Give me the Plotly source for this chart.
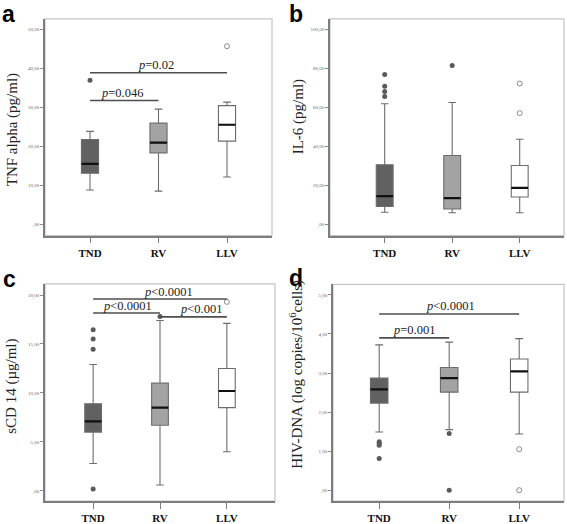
import plotly.graph_objects as go

categories = ["TND", "RV", "LLV"]
fills = ["#616161", "#a3a3a3", "#ffffff"]

# ---- Panel a: TNF alpha (pg/ml)
a_low = [8.9, 8.6, 12.2]
a_q1 = [13.2, 18.4, 21.4]
a_med = [15.6, 21.0, 25.6]
a_q3 = [21.8, 26.0, 30.5]
a_high = [23.9, 29.6, 31.4]
a_out = [[37.0], [], [45.7]]
a_ticks = [0, 10, 20, 30, 40, 50]
a_ticklabels = [",00", "10,00", "20,00", "30,00", "40,00", "50,00"]

# ---- Panel b: IL-6 (pg/ml)
b_low = [6.4, 6.1, 6.1]
b_q1 = [9.3, 8.0, 14.2]
b_med = [14.6, 13.6, 18.8]
b_q3 = [30.7, 35.4, 30.3]
b_high = [61.9, 62.5, 43.7]
b_out = [[76.9, 70.8, 68.1, 65.6], [81.5], [72.2, 57.1]]
b_ticks = [0, 20, 40, 60, 80, 100]
b_ticklabels = [",00", "20,00", "40,00", "60,00", "80,00", "100,00"]

# ---- Panel c: sCD 14 (µg/ml)
c_low = [2.8, 0.6, 4.0]
c_q1 = [6.0, 6.7, 8.5]
c_med = [7.1, 8.5, 10.2]
c_q3 = [8.9, 11.0, 12.5]
c_high = [12.9, 17.4, 17.1]
c_out = [[16.45, 15.5, 14.45, 0.2], [17.8], [19.3]]
c_ticks = [0, 5, 10, 15, 20]
c_ticklabels = [",00", "5,00", "10,00", "15,00", "20,00"]

# ---- Panel d: HIV-DNA (log copies/10^6 cells)
d_low = [1.49, 1.55, 1.44]
d_q1 = [2.23, 2.51, 2.51]
d_med = [2.58, 2.87, 3.04]
d_q3 = [2.87, 3.14, 3.36]
d_high = [3.72, 3.79, 3.88]
d_out = [[1.24, 1.2, 1.15, 0.81], [1.45, 0.0], [1.05, 0.0]]
d_ticks = [0, 1, 2, 3, 4, 5]
d_ticklabels = [",00", "1,00", "2,00", "3,00", "4,00", "5,00"]

# significance brackets: (from idx, to idx, line y, label, label x, label y)
a_sig = [(0, 2, 38.9, "<i>p</i>=0.02", 0.97, 41.0),
         (0, 1, 31.8, "<i>p</i>=0.046", 0.46, 33.8)]
b_sig = []
c_sig = [(0, 2, 19.6, "<i>p</i><0.0001", 1.13, 20.3),
         (0, 1, 18.17, "<i>p</i><0.0001", 0.51, 18.9),
         (1, 2, 17.77, "<i>p</i><0.001", 1.62, 18.55)]
d_sig = [(0, 2, 4.51, "<i>p</i><0.0001", 1.02, 4.71),
         (0, 1, 3.9, "<i>p</i>=0.001", 0.5, 4.11)]

W, H = 567, 524
panels = [
    dict(letter="a", title="TNF alpha (pg/ml)", low=a_low, q1=a_q1, med=a_med, q3=a_q3, high=a_high,
         out=a_out, ticks=a_ticks, tl=a_ticklabels, sig=a_sig,
         px=(45, 272), py=(19, 237), xr=[-0.657, 2.657], yr=[-2.8, 52.7],
         letter_pos=(8, 0), title_pos=(12, 131)),
    dict(letter="b", title="IL-6 (pg/ml)", low=b_low, q1=b_q1, med=b_med, q3=b_q3, high=b_high,
         out=b_out, ticks=b_ticks, tl=b_ticklabels, sig=b_sig,
         px=(330, 564), py=(19, 237), xr=[-0.81, 2.656], yr=[-5.6, 105.3],
         letter_pos=(296, 0), title_pos=(298, 118)),
    dict(letter="c", title="sCD 14 (µg/ml)", low=c_low, q1=c_q1, med=c_med, q3=c_q3, high=c_high,
         out=c_out, ticks=c_ticks, tl=c_ticklabels, sig=c_sig,
         px=(45, 275), py=(285.5, 504), xr=[-0.72, 2.72], yr=[-1.05, 21.14],
         letter_pos=(9, 267), title_pos=(12, 389)),
    dict(letter="d", title="HIV-DNA (log copies/10<sup>6</sup>cells)", low=d_low, q1=d_q1, med=d_med, q3=d_q3,
         high=d_high, out=d_out, ticks=d_ticks, tl=d_ticklabels, sig=d_sig,
         px=(333, 564), py=(286, 504), xr=[-0.66, 2.64], yr=[-0.28, 5.27],
         letter_pos=(296, 266), title_pos=(297, 377)),
]

fig = go.Figure()
shapes = []
annotations = []
serif = "Liberation Serif, Times New Roman, serif"

for i, p in enumerate(panels, start=1):
    xa = "x" if i == 1 else f"x{i}"
    ya = "y" if i == 1 else f"y{i}"
    xk = "xaxis" if i == 1 else f"xaxis{i}"
    yk = "yaxis" if i == 1 else f"yaxis{i}"

    for g, cat in enumerate(categories):
        fig.add_trace(go.Box(
            x=[cat], q1=[p["q1"][g]], median=[p["med"][g]], q3=[p["q3"][g]],
            lowerfence=[p["low"][g]], upperfence=[p["high"][g]],
            fillcolor=fills[g], line=dict(color="#6c6c6c", width=1.1),
            width=0.25, whiskerwidth=0.45, boxpoints=False,
            xaxis=xa, yaxis=ya, showlegend=False, hoverinfo="skip"))
        # thick black median
        fig.add_trace(go.Box(
            x=[cat], q1=[p["med"][g]], median=[p["med"][g]], q3=[p["med"][g]],
            lowerfence=[p["med"][g]], upperfence=[p["med"][g]],
            fillcolor="rgba(0,0,0,0)", line=dict(color="#111111", width=2.2),
            width=0.25, whiskerwidth=0, boxpoints=False,
            xaxis=xa, yaxis=ya, showlegend=False, hoverinfo="skip"))
        outs = p["out"][g]
        if outs:
            if g == 2:
                marker = dict(symbol="circle-open", size=5, color="#8a8a8a", line=dict(width=1, color="#8a8a8a"))
            else:
                marker = dict(symbol="circle", size=5, color="#5a5a5a")
            fig.add_trace(go.Scatter(
                x=[cat] * len(outs), y=outs, mode="markers", marker=marker,
                xaxis=xa, yaxis=ya, showlegend=False, hoverinfo="skip"))

    x0, x1 = p["px"]
    y0, y1 = p["py"]
    fig.layout[xk] = dict(
        domain=[x0 / W, x1 / W], anchor=ya, type="category",
        categoryorder="array", categoryarray=categories, range=p["xr"],
        tickvals=categories, ticktext=[f"<b>{c}</b>" for c in categories],
        showline=True, linecolor="#7d7d7d", linewidth=1.5, mirror=False,
        ticks="outside", ticklen=6, tickcolor="#7d7d7d", tickwidth=1,
        showgrid=False, zeroline=False,
        tickfont=dict(family=serif, size=11, color="#111111"))
    fig.layout[yk] = dict(
        domain=[1 - y1 / H, 1 - y0 / H], anchor=xa, range=p["yr"],
        tickvals=p["ticks"], ticktext=p["tl"],
        showline=True, linecolor="#7d7d7d", linewidth=1.5, mirror=False,
        ticks="outside", ticklen=3, tickcolor="#8a8a8a", tickwidth=1,
        showgrid=False, zeroline=False,
        tickfont=dict(family=serif, size=5, color="#666666"))

    # light frame top/right
    shapes.append(dict(type="rect", xref=f"{xa} domain", yref=f"{ya} domain",
                       x0=0, x1=1, y0=0, y1=1, line=dict(color="#c4c4c4", width=1.2), layer="below"))

    for (s0, s1, ly, lab, lx, lyy) in p["sig"]:
        shapes.append(dict(type="line", xref=xa, yref=ya, x0=s0, x1=s1, y0=ly, y1=ly,
                           line=dict(color="#4e4e4e", width=1.6)))
        annotations.append(dict(xref=xa, yref=ya, x=lx, y=lyy, text=lab, showarrow=False,
                                font=dict(family=serif, size=12.5, color="#222222"),
                                xanchor="center", yanchor="middle"))

    lx, ly = p["letter_pos"]
    annotations.append(dict(xref="paper", yref="paper", x=lx / W, y=1 - ly / H, text=f"<b>{p['letter']}</b>",
                            showarrow=False, xanchor="center", yanchor="top", borderpad=0,
                            font=dict(family="Liberation Sans, Arial, sans-serif", size=23, color="#000000")))
    tx, ty = p["title_pos"]
    annotations.append(dict(xref="paper", yref="paper", x=tx / W, y=1 - ty / H, text=p["title"],
                            showarrow=False, textangle=-90, xanchor="center", yanchor="middle",
                            font=dict(family=serif, size=15, color="#222222")))

fig.update_layout(
    width=W, height=H, margin=dict(l=0, r=0, t=0, b=0),
    paper_bgcolor="white", plot_bgcolor="white",
    boxmode="overlay", shapes=shapes, annotations=annotations)

fig.write_html("out.html", config={"displayModeBar": False},
               post_script="document.body.style.margin='0';document.body.style.padding='0';")
